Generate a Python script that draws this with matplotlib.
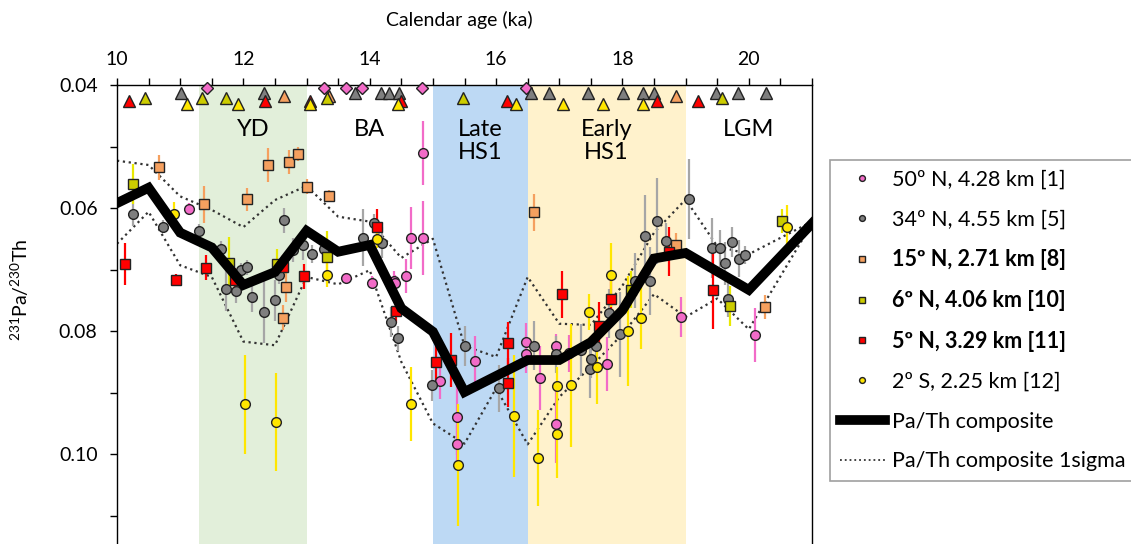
import matplotlib
matplotlib.use('Agg')
import matplotlib.pyplot as plt
from matplotlib.lines import Line2D
from matplotlib.ticker import MultipleLocator, FormatStrFormatter

plt.rcParams['font.family'] = ['Lato', 'DejaVu Sans']
plt.rcParams['mathtext.fontset'] = 'custom'
plt.rcParams['mathtext.rm'] = 'Lato'

# --- data: (age ka, 231Pa/230Th, 1 sigma) per core ---
n50_age = [11.14, 13.62, 14.04, 14.39, 14.40, 14.57, 14.66, 14.84, 14.84, 15.11, 15.38, 15.38,
           15.66, 16.47, 16.47, 16.70, 16.95, 16.95, 17.15, 17.76, 18.92, 20.09]
n50_pa = [0.0601, 0.0714, 0.0721, 0.0718, 0.0721, 0.0710, 0.0649, 0.0510, 0.0649, 0.0881, 0.0939, 0.0983,
          0.0849, 0.0817, 0.0838, 0.0877, 0.0824, 0.0951, 0.0836, 0.0853, 0.0777, 0.0807]
n50_err = [0.0010, 0.0008, 0.0010, 0.0015, 0.0012, 0.0028, 0.0050, 0.0052, 0.0060, 0.0029, 0.0063, 0.0030,
           0.0041, 0.0030, 0.0030, 0.0052, 0.0020, 0.0064, 0.0030, 0.0044, 0.0033, 0.0044]

n34_age = [10.26, 10.73, 11.29, 11.65, 11.72, 11.88, 11.97, 12.05, 12.13, 12.33, 12.50, 12.57, 12.64,
           12.78, 12.94, 13.09, 13.28, 13.90, 14.06, 14.20, 14.34, 14.45, 14.98, 15.51, 16.05, 16.60,
           16.95, 17.35, 17.48, 17.51, 17.58, 17.79, 17.96, 18.20, 18.35, 18.44, 18.55, 18.69, 19.05,
           19.41, 19.54, 19.62, 19.67, 19.73, 19.84, 19.94]
n34_pa = [0.0609, 0.0630, 0.0638, 0.0666, 0.0732, 0.0734, 0.0700, 0.0696, 0.0744, 0.0769, 0.0750, 0.0709,
          0.0620, 0.0668, 0.0660, 0.0675, 0.0666, 0.0648, 0.0624, 0.0656, 0.0785, 0.0812, 0.0888, 0.0824,
          0.0893, 0.0824, 0.0838, 0.0831, 0.0862, 0.0846, 0.0824, 0.0771, 0.0805, 0.0718, 0.0646, 0.0718,
          0.0621, 0.0654, 0.0585, 0.0665, 0.0665, 0.0690, 0.0747, 0.0655, 0.0682, 0.0676]
n34_err = [0.0020, 0.0010, 0.0012, 0.0012, 0.0035, 0.0020, 0.0010, 0.0012, 0.0025, 0.0050, 0.0033, 0.0015,
           0.0020, 0.0020, 0.0025, 0.0015, 0.0012, 0.0046, 0.0015, 0.0025, 0.0025, 0.0020, 0.0025, 0.0033,
           0.0038, 0.0040, 0.0030, 0.0042, 0.0046, 0.0030, 0.0030, 0.0040, 0.0069, 0.0045, 0.0068, 0.0055,
           0.0070, 0.0030, 0.0065, 0.0049, 0.0030, 0.0035, 0.0030, 0.0025, 0.0030, 0.0015]

n15_age = [10.67, 11.37, 12.05, 12.39, 12.63, 12.68, 12.73, 12.86, 13.01, 13.36, 16.60, 18.84, 20.26]
n15_pa = [0.0534, 0.0594, 0.0586, 0.0530, 0.0778, 0.0728, 0.0525, 0.0512, 0.0565, 0.0580, 0.0607, 0.0660, 0.0761]
n15_err = [0.0020, 0.0030, 0.0018, 0.0027, 0.0020, 0.0025, 0.0020, 0.0012, 0.0012, 0.0010, 0.0030, 0.0020, 0.0020]

n6_age = [10.25, 11.78, 12.54, 13.32, 18.14, 19.71, 20.53]
n6_pa = [0.0561, 0.0689, 0.0691, 0.0680, 0.0733, 0.0759, 0.0621]
n6_err = [0.0033, 0.0042, 0.0025, 0.0043, 0.0030, 0.0033, 0.0020]

n5_age = [10.13, 10.93, 11.41, 11.86, 12.62, 12.96, 14.11, 14.41, 15.05, 15.28, 16.19, 16.19,
          17.05, 17.63, 17.82, 18.73, 19.44]
n5_pa = [0.0691, 0.0717, 0.0697, 0.0717, 0.0696, 0.0711, 0.0631, 0.0767, 0.0850, 0.0847, 0.0820, 0.0884,
         0.0740, 0.0792, 0.0747, 0.0671, 0.0733]
n5_err = [0.0034, 0.0010, 0.0020, 0.0020, 0.0020, 0.0020, 0.0030, 0.0020, 0.0040, 0.0044, 0.0035, 0.0040,
          0.0038, 0.0040, 0.0030, 0.0040, 0.0063]

s2_age = [10.91, 12.03, 12.52, 13.32, 14.12, 14.66, 15.40, 16.29, 16.67, 16.97, 16.97, 17.18,
          17.47, 17.60, 17.82, 18.08, 18.29, 20.60]
s2_pa = [0.0610, 0.0919, 0.0948, 0.0709, 0.0650, 0.0919, 0.1018, 0.0938, 0.1007, 0.0889, 0.0968, 0.0888,
         0.0769, 0.0858, 0.0709, 0.0800, 0.0779, 0.0630]
s2_err = [0.0020, 0.0080, 0.0080, 0.0020, 0.0015, 0.0060, 0.0099, 0.0099, 0.0078, 0.0030, 0.0070, 0.0100,
          0.0030, 0.0060, 0.0052, 0.0090, 0.0050, 0.0035]

# age control points (top of panel)
tie_n50 = [11.42, 13.28, 13.63, 13.87, 14.83, 16.47]
tie_n34 = [11.01, 12.32, 13.77, 14.18, 14.31, 14.47, 16.55, 16.84, 17.46, 18.01, 18.33, 18.50,
           19.48, 19.83, 20.27]
tie_n15 = [12.65, 13.36, 18.84]
tie_n6 = [10.44, 11.35, 11.72, 13.32, 15.48, 19.58]
tie_n5 = [10.19, 12.34, 13.05, 14.49, 16.18, 18.55, 19.20]
tie_s2 = [11.11, 11.92, 13.06, 14.44, 16.31, 17.06, 17.69, 18.32]

# composite and 1 sigma envelope
comp_age = [10.0, 10.5, 11.0, 11.5, 12.0, 12.5, 13.0, 13.5, 14.0, 14.5, 15.0, 15.5, 16.5, 17.0,
            17.5, 18.0, 18.5, 19.0, 20.0, 21.0]
comp = [0.0592, 0.0567, 0.0640, 0.0664, 0.0725, 0.0704, 0.0637, 0.0671, 0.0660, 0.0763, 0.0801, 0.0899,
        0.0847, 0.0847, 0.0818, 0.0766, 0.0682, 0.0673, 0.0733, 0.0625]
sig_age = [10.0, 10.5, 11.0, 11.5, 12.0, 12.5, 13.0, 13.5, 14.0, 14.5, 15.0, 15.5, 16.0, 16.5, 17.0,
           17.5, 18.0, 18.5, 19.0, 19.5, 20.0, 21.0]
sig_up = [0.0523, 0.0530, 0.0581, 0.0603, 0.0631, 0.0587, 0.0564, 0.0614, 0.0622, 0.0681, 0.0650, 0.0824,
          0.0842, 0.0712, 0.0788, 0.0790, 0.0726, 0.0640, 0.0586, 0.0662, 0.0675, 0.0622]
sig_dn = [0.0658, 0.0606, 0.0693, 0.0712, 0.0817, 0.0823, 0.0712, 0.0724, 0.0701, 0.0850, 0.0950, 0.0983,
          0.0893, 0.0984, 0.0907, 0.0858, 0.0805, 0.0740, 0.0777, 0.0747, 0.0797, 0.0625]

periods = [('YD', 11.3, 13.0, '#E2EFDA'), ('BA', 13.0, 15.0, None), ('Late\nHS1', 15.0, 16.5, '#BDD9F4'),
           ('Early\nHS1', 16.5, 19.0, '#FFF2CC'), ('LGM', 19.0, 21.0, None)]

fig = plt.figure(figsize=(11.31, 5.44), dpi=100)
ax = fig.add_axes([117 / 1131, 0.0, 695 / 1131, 1 - 85 / 544])

for name, x0, x1, col in periods:
    if col:
        ax.axvspan(x0, x1, color=col, lw=0, zorder=0)
    ax.text((x0 + x1) / 2, 0.0455, name, ha='center', va='top', fontsize=17,
            multialignment='center', linespacing=1.1, zorder=1)

series = [
    ('50º N, 4.28 km [1]', n50_age, n50_pa, n50_err, 'o', '#F26BC8', '#F26BC8', tie_n50, 'D', 0.04049),
    ('34º N, 4.55 km [5]', n34_age, n34_pa, n34_err, 'o', '#7F7F7F', '#A6A6A6', tie_n34, '^', 0.04130),
    ('15º N, 2.71 km [8]', n15_age, n15_pa, n15_err, 's', '#F5A05F', '#F5A05F', tie_n15, '^', 0.04180),
    ('6º N, 4.06 km [10]', n6_age, n6_pa, n6_err, 's', '#CCCC00', '#E8E800', tie_n6, '^', 0.04212),
    ('5º N, 3.29 km [11]', n5_age, n5_pa, n5_err, 's', '#FF0000', '#FF0000', tie_n5, '^', 0.04262),
    ('2º S, 2.25 km [12]', s2_age, s2_pa, s2_err, 'o', '#FFE600', '#FFE600', tie_s2, '^', 0.04310),
]

ax.plot(sig_age, sig_up, ls=':', color='#333333', lw=1.6, zorder=2)
ax.plot(sig_age, sig_dn, ls=':', color='#333333', lw=1.6, zorder=2)

handles = []
for lab, xs, ys, es, mk, fc, ec, ties, tmk, trow in series:
    ax.errorbar(xs, ys, yerr=es, fmt='none', ecolor=ec, elinewidth=1.6, capsize=0, zorder=3)
    h, = ax.plot(xs, ys, ls='none', marker=mk, ms=7 if mk == 'o' else 6.5, mfc=fc, mec='#222222',
                 mew=1.0, zorder=4, label=lab)
    handles.append(h)
    ax.plot(ties, [trow] * len(ties), ls='none', marker=tmk, ms=6 if tmk == 'D' else 9,
            mfc=fc, mec='#222222', mew=1.0, zorder=5, clip_on=False)

h_comp, = ax.plot(comp_age, comp, color='black', lw=7, solid_joinstyle='miter', zorder=6,
                  label='Pa/Th composite')
h_sig = Line2D([], [], ls=':', color='#333333', lw=1.3, label='Pa/Th composite 1sigma')
handles += [h_comp, h_sig]

ax.set_xlim(10, 21)
ax.set_ylim(0.1146, 0.04)
ax.xaxis.tick_top()
ax.xaxis.set_major_locator(MultipleLocator(2))
ax.xaxis.set_minor_locator(MultipleLocator(0.5))
ax.yaxis.set_major_locator(MultipleLocator(0.02))
ax.yaxis.set_minor_locator(MultipleLocator(0.01))
ax.yaxis.set_major_formatter(FormatStrFormatter('%.2f'))
ax.tick_params(which='both', direction='out', length=5, width=1, labelsize=14)
ax.tick_params(axis='x', which='major', pad=7)
ax.tick_params(axis='y', which='major', pad=9)
ax.spines['bottom'].set_visible(False)
for s in ['top', 'left', 'right']:
    ax.spines[s].set_linewidth(1)

fig.text(459 / 1131, 1 - 20 / 544, 'Calendar age (ka)', ha='center', va='center', fontsize=14)
fig.text(20 / 1131, 1 - 290 / 544, r'$^{231}$Pa/$^{230}$Th', rotation=90, ha='center', va='center',
         fontsize=14)

leg = fig.legend(handles=handles, loc='upper left', bbox_to_anchor=(830 / 1131, 1 - 160 / 544),
                 fontsize=15.5, markerscale=0.6, handlelength=2.1, handletextpad=0.35, labelspacing=0.92,
                 borderpad=0.45, borderaxespad=0, fancybox=False, edgecolor='#A0A0A0', framealpha=1)
leg.get_frame().set_linewidth(1.2)
for t in leg.get_texts()[2:5]:
    t.set_fontweight('bold')

fig.savefig('out.png', dpi=100)
